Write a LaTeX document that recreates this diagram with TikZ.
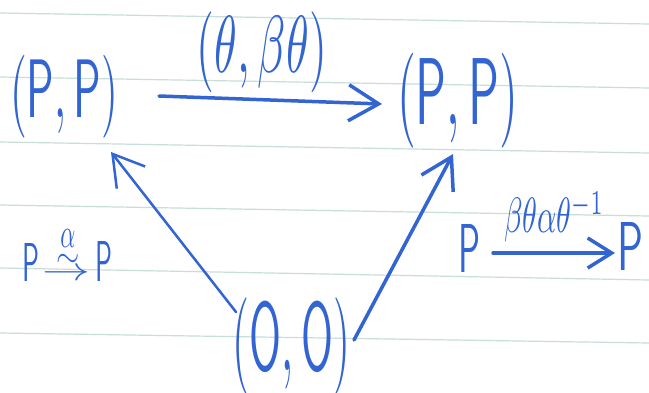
\documentclass[tikz,border=0pt]{standalone}
\usepackage{amsmath}
\usepackage{graphicx}
\usetikzlibrary{arrows.meta,calc}
\definecolor{ink}{RGB}{50,100,210}
\definecolor{paperrule}{RGB}{200,222,218}
\newcommand{\hwbox}[3]{\resizebox*{#1pt}{#2pt}{#3}}
\newcommand{\overlayat}[3]{\llap{\hbox to #1pt{\hss\raisebox{#2pt}{#3}\hss}}}
\begin{document}
\begin{tikzpicture}[x=1pt,y=-1pt,
  obj/.style={inner sep=0pt,outer sep=0pt,text=ink},
  arr/.style={draw=ink,line width=3.5pt,line cap=round,line join=round,
    -{Straight Barb[length=30pt,width=36pt]}},
  thinarr/.style={arr,line width=2.5pt},
  ruleline/.style={draw=paperrule,line width=1.2pt}]
\useasboundingbox (0,0) rectangle (649,392);
\fill[white] (0,0) rectangle (649,392);
% lined paper
\foreach \yl/\yr in {13/24,77/88,142/153,205/216,268/280,333/343}
  \draw[ruleline] (0,\yl) -- (649,\yr);
% objects
\node[obj] (L) at (64,96.5) {\hwbox{108}{83}{$(\mathsf{P},\mathsf{P})$}};
\node[obj] (R) at (457.5,100.5) {\hwbox{121}{95}{$(\mathsf{P},\mathsf{P})$}};
\node[obj] (O) at (291.5,346.5) {\hwbox{117}{97}{$(\mathsf{O},\mathsf{O})$}};
\node[obj] (T) at (262,52.5) {\hwbox{130}{81}{$(\theta,\beta\theta)$}};
\node[obj] (LL) at (67.5,255) {%
  \hwbox{17}{38}{$\mathsf{P}$}\kern2pt
  \hbox to 48pt{\hss\raisebox{1pt}{\resizebox{48pt}{12pt}{$\rightarrow$}}\hss}%
  \overlayat{44}{14}{\scalebox{3}[3.6]{$\sim$}}%
  \overlayat{44}{34}{\resizebox{15pt}{18pt}{$\alpha$}}%
  \kern5pt\hwbox{17}{40}{$\mathsf{P}$}};
\node[obj] (rp1) at (469,248) {\hwbox{22}{48}{$\mathsf{P}$}};
\node[obj] (rp2) at (630,246) {\hwbox{26}{48}{$\mathsf{P}$}};
% connectors
\draw[arr] ($(L)+(95,-0.5)$) -- ($(R)+(-75.5,3.5)$);
\draw[thinarr] ($(O)+(-55.5,-34.5)$) -- ($(L)+(47,55.5)$);
\draw[arr] ($(O)+(62.5,-6.5)$) -- ($(R)+(-4.5,53.5)$);
\draw[arr,-{Straight Barb[length=24pt,width=30pt]}] ($(rp1)+(24,5)$) -- ($(rp2)+(-15,7)$)
  node[obj,midway,above=11pt] (rlab) {\hwbox{100}{50}{$\beta\theta\alpha\theta^{-1}$}};
\end{tikzpicture}
\end{document}
